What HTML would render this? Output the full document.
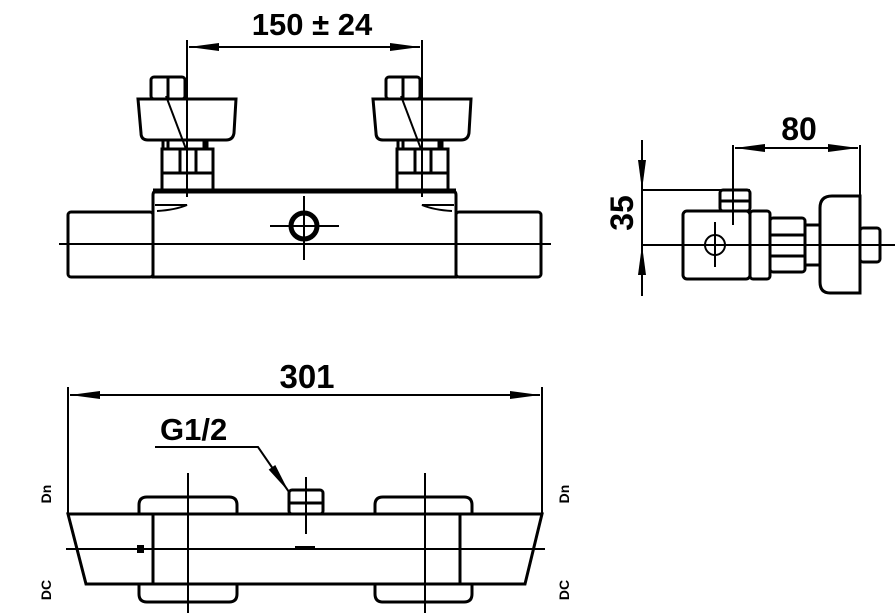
<!DOCTYPE html>
<html><head><style>body{margin:0;background:#fff}svg{display:block}text{font-family:"Liberation Sans",sans-serif;font-weight:bold;fill:#000}</style></head>
<body>
<svg width="896" height="613" viewBox="0 0 896 613" xmlns="http://www.w3.org/2000/svg">
<defs>
<marker id="b" viewBox="0 0 30 10" refX="30" refY="5" markerWidth="36" markerHeight="10" markerUnits="userSpaceOnUse" orient="auto-start-reverse"><path d="M0,1 L30,5 L0,9Z"/></marker>
</defs>
<g fill="none" stroke="#000" stroke-width="3">
<!-- TOP VIEW -->
<line x1="187" y1="40" x2="187" y2="197" stroke-width="2"/>
<line x1="422" y1="40" x2="422" y2="197" stroke-width="2"/>
<line x1="189" y1="47" x2="420" y2="47" stroke-width="2" marker-start="url(#b)" marker-end="url(#b)"/>
<g id="knob">
<rect x="151" y="77" width="34" height="22" rx="3"/>
<line x1="168" y1="77" x2="168" y2="99"/>
<path d="M138,99 H236 L234,133 Q233,140 226,140 H148 Q141,140 141,133 Z"/>
<line x1="166" y1="96" x2="186" y2="149" stroke-width="2"/>
<path d="M163,140 V148 M207,140 V148 M168,140 V148 M204,140 V148" stroke-width="3"/>
<rect x="162" y="149" width="51" height="24"/>
<line x1="180" y1="149" x2="180" y2="173"/>
<line x1="196" y1="149" x2="196" y2="173"/>
<rect x="162" y="173" width="51" height="17"/>
</g>
<use href="#knob" transform="translate(235,0)"/>
<path d="M153,277 V195 Q153,191 157,191 H452 Q456,191 456,195 V277 Z"/>
<line x1="153" y1="191" x2="456" y2="191" stroke-width="5"/>
<rect x="68" y="212" width="85" height="65" rx="3"/>
<rect x="456" y="212" width="85" height="65" rx="3"/>
<path d="M155,205 H187 Q175,210 157,211" stroke-width="2"/>
<path d="M454,205 H422 Q434,210 452,211" stroke-width="2"/>
<line x1="59" y1="244" x2="551" y2="244" stroke-width="2"/>
<circle cx="304" cy="226" r="13" stroke-width="5"/>
<line x1="270" y1="226" x2="339" y2="226" stroke-width="2"/>
<line x1="304" y1="196" x2="304" y2="260" stroke-width="2"/>
<!-- SIDE VIEW -->
<line x1="642" y1="140" x2="642" y2="296" stroke-width="2"/>
<line x1="642" y1="150" x2="642" y2="190" stroke-width="2" marker-end="url(#b)"/>
<line x1="642" y1="290" x2="642" y2="245" stroke-width="2" marker-end="url(#b)"/>
<line x1="642" y1="190" x2="750" y2="190" stroke-width="2"/>
<line x1="642" y1="245" x2="895" y2="245" stroke-width="2"/>
<line x1="733" y1="145" x2="733" y2="225" stroke-width="2"/>
<line x1="860" y1="145" x2="860" y2="196" stroke-width="2"/>
<line x1="735" y1="148" x2="858" y2="148" stroke-width="2" marker-start="url(#b)" marker-end="url(#b)"/>
<rect x="720" y="190" width="30" height="21" rx="3"/>
<line x1="720" y1="201" x2="750" y2="201"/>
<rect x="683" y="211" width="67" height="68" rx="4"/>
<rect x="750" y="211" width="20" height="68" rx="3"/>
<rect x="770" y="218" width="35" height="54" rx="3"/>
<line x1="770" y1="235" x2="805" y2="235"/>
<line x1="770" y1="256" x2="805" y2="256"/>
<rect x="805" y="225" width="15" height="40"/>
<path d="M860,196 H832 Q820,196 820,208 V282 Q820,293 830,293 H860 Z"/>
<rect x="860" y="228" width="20" height="34" rx="3"/>
<circle cx="715" cy="245" r="10" stroke-width="2"/>
<line x1="715" y1="222" x2="715" y2="267" stroke-width="2"/>
<!-- BOTTOM VIEW -->
<line x1="68" y1="387" x2="68" y2="514" stroke-width="2"/>
<line x1="542" y1="387" x2="542" y2="514" stroke-width="2"/>
<line x1="70" y1="395" x2="540" y2="395" stroke-width="2" marker-start="url(#b)" marker-end="url(#b)"/>
<path d="M139,514 V505 Q139,497 147,497 H229 Q237,497 237,505 V514"/>
<path d="M139,584 V594 Q139,602 147,602 H229 Q237,602 237,594 V584"/>
<path d="M375,514 V505 Q375,497 383,497 H464 Q472,497 472,505 V514"/>
<path d="M375,584 V594 Q375,602 383,602 H464 Q472,602 472,594 V584"/>
<path d="M68,514 H542 L525,584 H86 Z"/>
<rect x="153" y="514" width="307" height="70"/>
<line x1="188" y1="473" x2="188" y2="613" stroke-width="2"/>
<line x1="425" y1="473" x2="425" y2="613" stroke-width="2"/>
<line x1="66" y1="549" x2="545" y2="549" stroke-width="2"/>
<rect x="289" y="490" width="34" height="24" rx="3"/>
<line x1="289" y1="503" x2="323" y2="503"/>
<line x1="306" y1="477" x2="306" y2="534" stroke-width="2"/>
<polyline points="155,447 258,447 289,492" stroke-width="2" marker-end="url(#b)"/>
</g>
<rect x="137" y="545" width="7" height="8"/>
<rect x="295" y="546" width="20" height="4"/>
<text x="312" y="35" font-size="31" text-anchor="middle">150 ± 24</text>
<text x="799" y="140" font-size="32" text-anchor="middle">80</text>
<text transform="translate(633,213) rotate(-90)" font-size="32" text-anchor="middle">35</text>
<text x="307" y="388" font-size="33" text-anchor="middle">301</text>
<text x="160" y="440" font-size="31">G1/2</text>
<text transform="translate(51,494) rotate(-90)" font-size="14" text-anchor="middle">Dn</text>
<text transform="translate(51,590) rotate(-90)" font-size="14" text-anchor="middle">DC</text>
<text transform="translate(569,494) rotate(-90)" font-size="14" text-anchor="middle">Dn</text>
<text transform="translate(569,590) rotate(-90)" font-size="14" text-anchor="middle">DC</text>
</svg>
</body></html>
